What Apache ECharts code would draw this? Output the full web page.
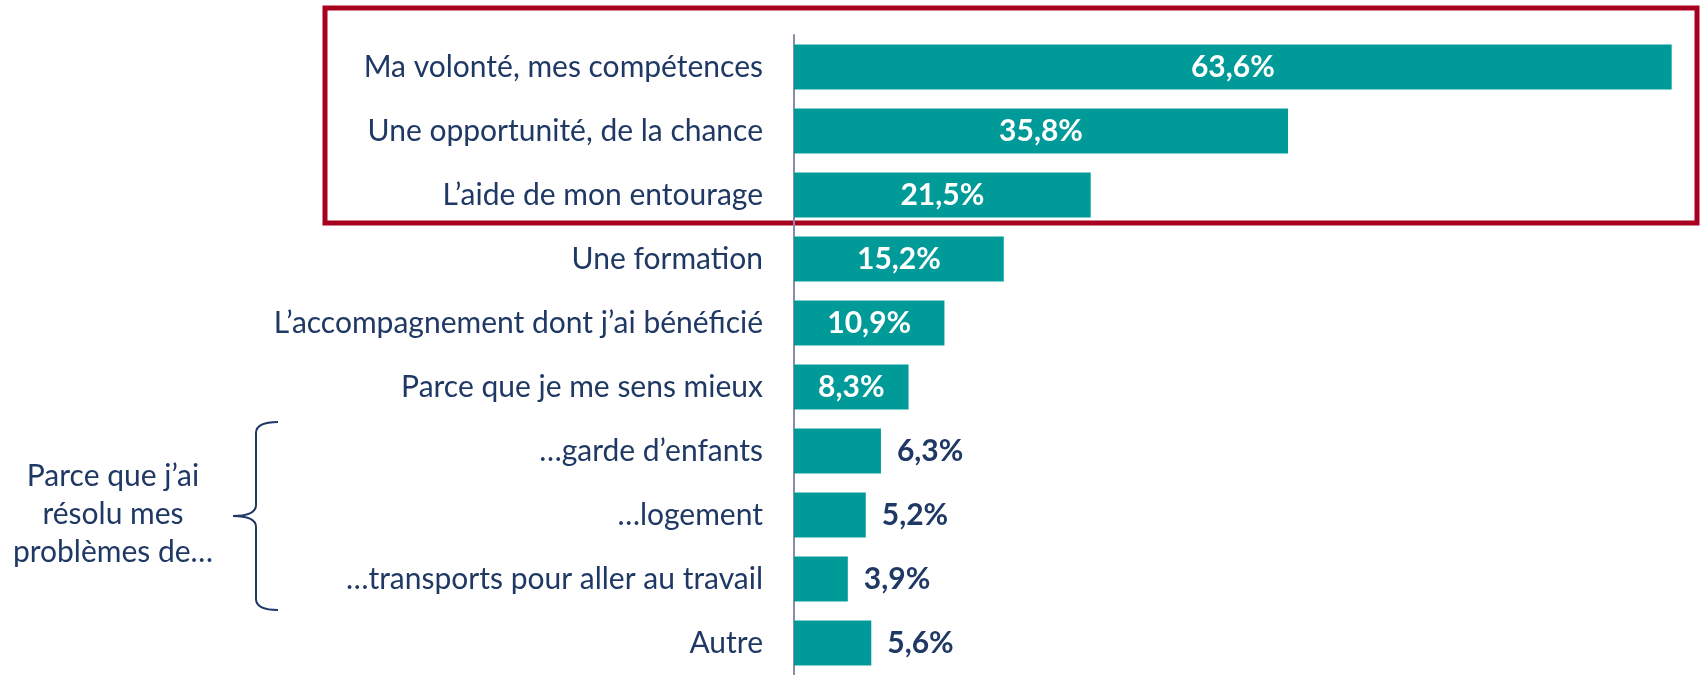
<!DOCTYPE html>
<html>
<head>
<meta charset="utf-8">
<script src="https://cdn.jsdelivr.net/npm/echarts@6/dist/echarts.min.js"></script>
<style>
  html, body { margin: 0; padding: 0; background: #fff; }
  #chart { width: 1700px; height: 675px; }
</style>
</head>
<body>
<div id="chart"></div>
<script>
// catégories (de haut en bas)
const categories = [
  'Ma volonté, mes compétences',
  'Une opportunité, de la chance',
  'L’aide de mon entourage',
  'Une formation',
  'L’accompagnement dont j’ai bénéficié',
  'Parce que je me sens mieux',
  '…garde d’enfants',
  '…logement',
  '…transports pour aller au travail',
  'Autre'
];
const values = [63.6, 35.8, 21.5, 15.2, 10.9, 8.3, 6.3, 5.2, 3.9, 5.6];
const groupLabel = ['Parce que j’ai', 'résolu mes', 'problèmes de…'];

const TEAL = '#009B99';
const NAVY = '#1F3864';
const FONT = 'Lato';

const myChart = echarts.init(document.getElementById('chart'));

const fmt = v => v.toFixed(1).replace('.', ',') + '%';

// petites barres : étiquette à droite, sinon dans la barre
const barData = values.map(function (v) {
  const inside = v >= 8;
  return {
    value: v,
    label: {
      position: inside ? 'inside' : 'right',
      color: inside ? '#fff' : NAVY,
      distance: 16
    }
  };
});

// accolade
const braceStyle = { fill: 'none', stroke: NAVY, lineWidth: 2 };
function curve(x1, y1, cx, cy, x2, y2) {
  return { type: 'bezierCurve', shape: { x1: x1, y1: y1, cpx1: cx, cpy1: cy, x2: x2, y2: y2 }, style: braceStyle };
}
function seg(x1, y1, x2, y2) {
  return { type: 'line', shape: { x1: x1, y1: y1, x2: x2, y2: y2 }, style: braceStyle };
}

myChart.setOption({
  animation: false,
  grid: { left: 794, top: 35, width: 897, height: 644 },
  xAxis: {
    type: 'value',
    min: 0,
    max: 65,
    show: false
  },
  yAxis: {
    type: 'category',
    inverse: true,
    data: categories,
    axisLine: { lineStyle: { color: '#8C8CA6', width: 2 } },
    axisTick: { length: 11, lineStyle: { color: '#8C8CA6', width: 2 } },
    axisLabel: {
      margin: 31,
      fontFamily: FONT,
      fontSize: 30,
      color: NAVY
    }
  },
  series: [{
    type: 'bar',
    data: barData,
    barWidth: 45,
    itemStyle: { color: TEAL },
    label: {
      show: true,
      fontFamily: FONT,
      fontWeight: 'bold',
      fontSize: 30,
      formatter: p => fmt(p.value)
    }
  }],
  graphic: [
    {
      type: 'rect',
      shape: { x: 325, y: 8, width: 1372, height: 215 },
      style: { fill: 'none', stroke: '#A8001F', lineWidth: 5 }
    },
    curve(278, 422, 256, 422, 256, 433),
    seg(256, 433, 256, 505),
    curve(256, 505, 256, 516, 233, 516),
    curve(233, 516, 256, 516, 256, 527),
    seg(256, 527, 256, 599),
    curve(256, 599, 256, 610, 278, 610),
    {
      type: 'text',
      x: 113,
      y: 514,
      style: {
        text: groupLabel.join('\n'),
        fontFamily: FONT,
        fontSize: 30,
        lineHeight: 38,
        fill: NAVY,
        align: 'center',
        verticalAlign: 'middle'
      }
    }
  ]
});
</script>
</body>
</html>
